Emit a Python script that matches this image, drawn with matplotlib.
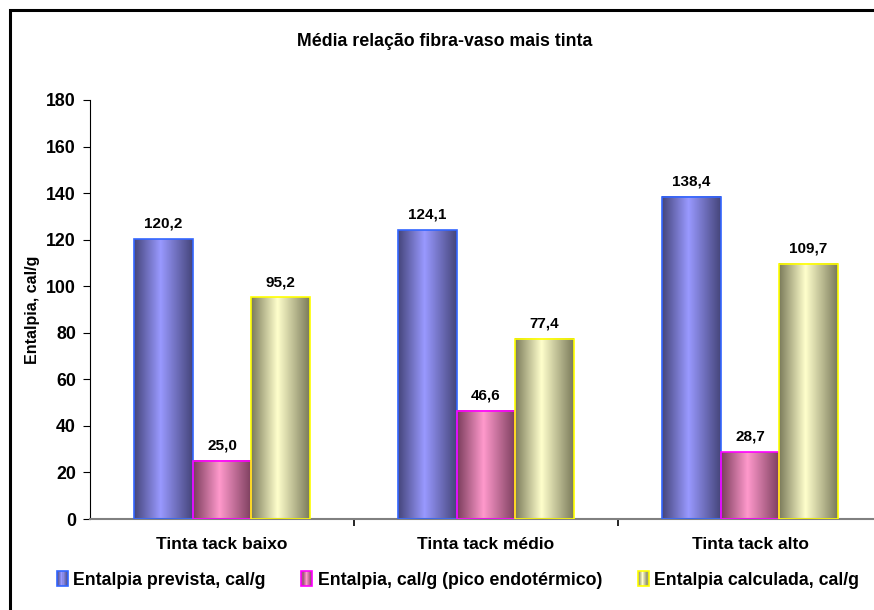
import matplotlib.pyplot as plt
import matplotlib.colors as mcolors
from matplotlib.patches import Rectangle
from matplotlib.legend_handler import HandlerBase
import numpy as np

plt.rcParams['font.family'] = ['Liberation Sans', 'DejaVu Sans']
plt.rcParams['font.weight'] = 'bold'

categories = ['Tinta tack baixo', 'Tinta tack médio', 'Tinta tack alto']
series_names = ['Entalpia prevista, cal/g',
                'Entalpia, cal/g (pico endotérmico)',
                'Entalpia calculada, cal/g']
prevista = [120.2, 124.1, 138.4]
pico = [25.0, 46.6, 28.7]
calculada = [95.2, 77.4, 109.7]
series = [prevista, pico, calculada]

# dark edge / light centre, like a cylinder
dark = ['#45457a', '#7a3d5c', '#7a7a5a']
light = ['#9999ff', '#ff99cc', '#ffffcc']
edges = ['#3366ff', '#ff00ff', '#ffff00']
cmaps = [mcolors.LinearSegmentedColormap.from_list('c%d' % i, [(0, d), (0.45, l), (1, d)])
         for i, (d, l) in enumerate(zip(dark, light))]


class GradHandler(HandlerBase):
    def __init__(self, cmap, edge):
        super().__init__()
        self.cmap = cmap
        self.edge = edge

    def create_artists(self, legend, orig_handle, xdescent, ydescent,
                       width, height, fontsize, trans):
        arts = []
        n = 10
        for i in range(n):
            arts.append(Rectangle((-xdescent + width * i / n, -ydescent), width / n, height,
                                  facecolor=self.cmap((i + 0.5) / n), lw=0, transform=trans))
        arts.append(Rectangle((-xdescent, -ydescent), width, height, fill=False,
                              edgecolor=self.edge, lw=1.2, transform=trans))
        return arts


fig = plt.figure(figsize=(8.74, 6.1), dpi=100)
ax = fig.add_axes([90 / 874, 1 - 519 / 610, 792 / 874, 419 / 610])

x = np.arange(len(categories))
w = 0.222
grad = np.linspace(0, 1, 256).reshape(1, -1)
for i, vals in enumerate(series):
    bars = ax.bar(x + (i - 1) * w, vals, w, facecolor='none', edgecolor=edges[i],
                  lw=1.2, zorder=3)
    for b, v in zip(bars, vals):
        ax.imshow(grad, cmap=cmaps[i], aspect='auto', zorder=2,
                  extent=(b.get_x(), b.get_x() + b.get_width(), 0, b.get_height()))
        ax.annotate(f'{v:.1f}'.replace('.', ','), (b.get_x() + b.get_width() / 2, v),
                    xytext=(0, 6), textcoords='offset points', ha='center', va='bottom',
                    fontsize=11, fontweight='bold')

ax.set_xlim(-0.5, 2.5)
ax.set_ylim(0, 180)
ax.set_yticks(np.arange(0, 181, 20))
ax.set_xticks(x)
ax.set_xticklabels(categories, fontsize=12.5)
ax.tick_params(axis='x', which='major', length=0, pad=13)
ax.set_xticks([0.5, 1.5], minor=True)
ax.tick_params(axis='x', which='minor', length=5, width=1.2, color='black')
ax.tick_params(axis='y', length=5, labelsize=12.8, pad=5)
for s in ['top', 'right']:
    ax.spines[s].set_visible(False)
ax.spines['bottom'].set_color('#808080')
ax.spines['bottom'].set_linewidth(1.5)
ax.spines['left'].set_linewidth(0.8)
ax.set_ylabel('Entalpia, cal/g', fontsize=11.5, fontweight='bold')
ax.yaxis.set_label_coords(-50 / 792, 0.5)

fig.text(445 / 874, 1 - 42 / 610, 'Média relação fibra-vaso mais tinta',
         ha='center', va='center', fontsize=12.8, fontweight='bold')

proxies = [Rectangle((0, 0), 1, 1) for _ in series]
fig.legend(proxies, series_names, loc='center', bbox_to_anchor=(458 / 874, 1 - 580 / 610),
           ncol=3, frameon=False, fontsize=12.8, handlelength=0.62, handleheight=0.9,
           handletextpad=0.3, columnspacing=2.0,
           handler_map={p: GradHandler(c, e) for p, c, e in zip(proxies, cmaps, edges)})

fig.patches.append(Rectangle((10 / 874, -0.05), 1, 1.05 - 10 / 610, fill=False,
                             lw=2.2, edgecolor='black', transform=fig.transFigure))

fig.savefig('out.png', dpi=100)
